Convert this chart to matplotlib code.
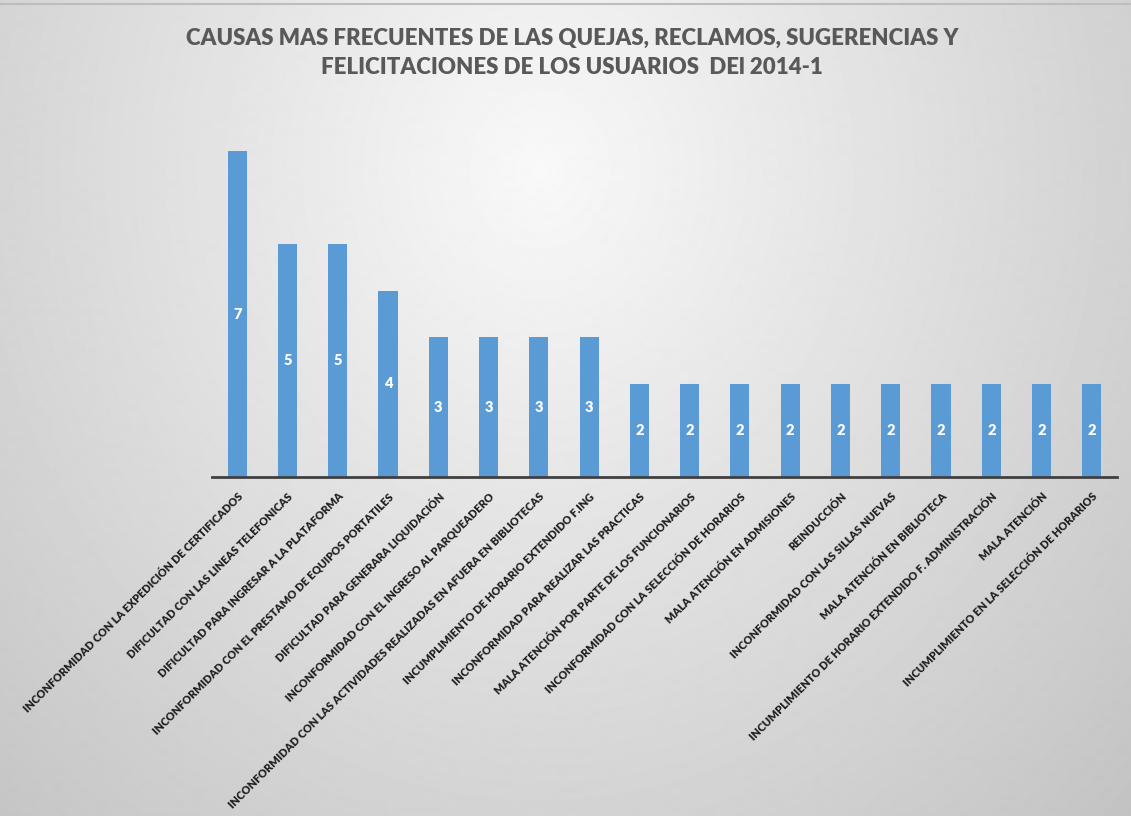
import matplotlib.pyplot as plt
import numpy as np

causas = [
    "INCONFORMIDAD CON LA EXPEDICIÓN DE CERTIFICADOS",
    "DIFICULTAD CON LAS LINEAS TELEFONICAS",
    "DIFICULTAD PARA INGRESAR A LA PLATAFORMA",
    "INCONFORMIDAD CON EL PRESTAMO DE EQUIPOS PORTATILES",
    "DIFICULTAD PARA GENERARA LIQUIDACIÓN",
    "INCONFORMIDAD CON EL INGRESO AL PARQUEADERO",
    "INCONFORMIDAD CON LAS ACTIVIDADES REALIZADAS EN AFUERA EN BIBLIOTECAS",
    "INCUMPLIMIENTO DE HORARIO EXTENDIDO F.ING",
    "INCONFORMIDAD PARA REALIZAR LAS PRACTICAS",
    "MALA ATENCIÓN POR PARTE DE LOS FUNCIONARIOS",
    "INCONFORMIDAD CON LA SELECCIÓN DE HORARIOS",
    "MALA ATENCIÓN EN ADMISIONES",
    "REINDUCCIÓN",
    "INCONFORMIDAD CON LAS SILLAS NUEVAS",
    "MALA ATENCIÓN EN BIBLIOTECA",
    "INCUMPLIMIENTO DE HORARIO EXTENDIDO F. ADMINISTRACIÓN",
    "MALA ATENCIÓN",
    "INCUMPLIMIENTO EN LA SELECCIÓN DE HORARIOS",
]
cantidad = [7, 5, 5, 4, 3, 3, 3, 3, 2, 2, 2, 2, 2, 2, 2, 2, 2, 2]

titulo = ("CAUSAS MAS FRECUENTES DE LAS QUEJAS, RECLAMOS, SUGERENCIAS Y\n"
          "FELICITACIONES DE LOS USUARIOS  DEl 2014-1")

fuente = ["Lato", "DejaVu Sans"]
W, H = 1131, 817
fig = plt.figure(figsize=(W / 100, H / 100), dpi=100)

# gray radial background like the Excel chart area
bg = fig.add_axes([0, 0, 1, 1], zorder=0)
yy, xx = np.mgrid[0:H, 0:W]
r = np.sqrt(((xx - 540) / 565.0) ** 2 + ((yy - 170) / 640.0) ** 2)
shade = np.clip(0.975 - 0.145 * r, 0, 1)
bg.imshow(shade, cmap="gray", vmin=0, vmax=1, aspect="auto", interpolation="bilinear")
bg.plot([0, W], [4, 4], color="#BDBDBD", lw=1.5)
bg.set_xlim(0, W)
bg.set_ylim(H, 0)
bg.axis("off")

ax = fig.add_axes([212 / W, (H - 477) / H, 905 / W, 372 / H], zorder=1)
ax.patch.set_alpha(0)

x = np.arange(len(causas))
bars = ax.bar(x, cantidad, width=0.38, color="#5B9BD5", zorder=2)

for b, v in zip(bars, cantidad):
    ax.text(b.get_x() + b.get_width() / 2, v / 2, str(v), ha="center", va="center",
            color="white", fontsize=10.5, fontweight="heavy", family=fuente)

ax.set_xlim(-0.5, len(causas) - 0.5)
ax.set_ylim(0, 8)
ax.set_yticks([])
ax.set_xticks(x)
ax.set_xticklabels(causas, rotation=45, ha="right", va="top", rotation_mode="anchor",
                   fontsize=7.8, fontweight="heavy", family=fuente, color="#1f1f1f")
ax.tick_params(axis="x", length=0, pad=10)
for s in ["top", "right", "left"]:
    ax.spines[s].set_visible(False)
ax.spines["bottom"].set_color("#404040")
ax.spines["bottom"].set_linewidth(2)

fig.text(0.506, 1 - 53 / H, titulo, ha="center", va="center", fontsize=16,
         fontweight="heavy", color="#595959", family=fuente, linespacing=1.45)

fig.savefig("out.png", dpi=100)
